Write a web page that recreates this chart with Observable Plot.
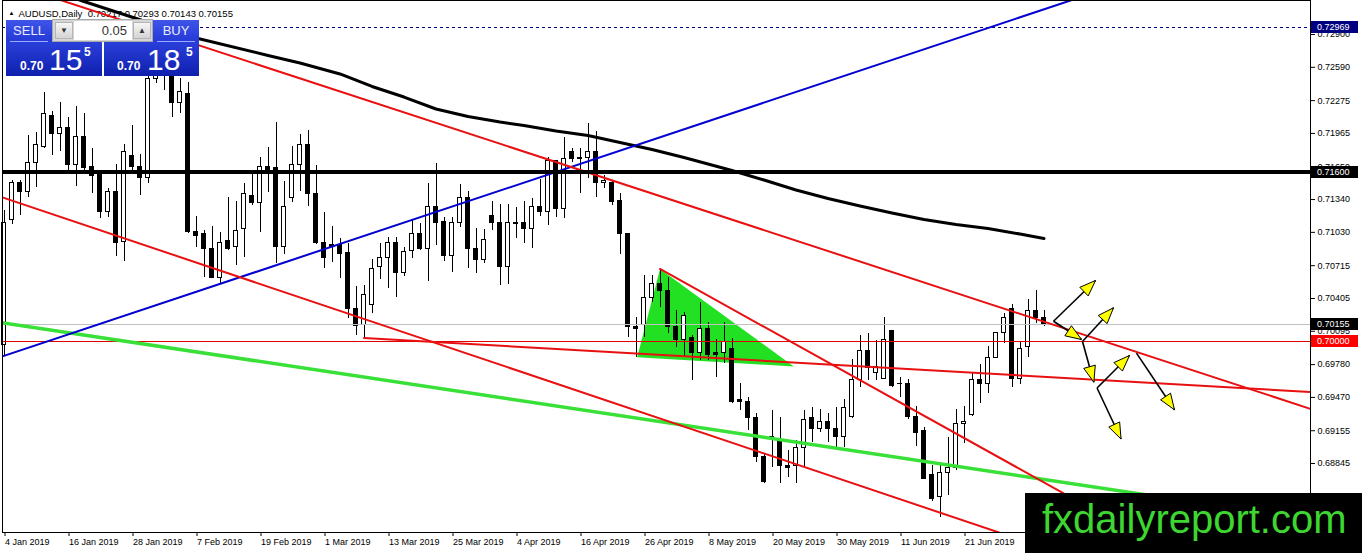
<!DOCTYPE html>
<html>
<head>
<meta charset="utf-8">
<script src="https://cdn.jsdelivr.net/npm/d3@7"></script>
<script src="https://cdn.jsdelivr.net/npm/@observablehq/plot@0.6"></script>
<style>
  html, body { margin: 0; padding: 0; background: #fff; }
  #wrap { position: relative; width: 1362px; height: 553px; overflow: hidden; background: #fff; }
  #chart svg { display: block; }
  .p { position: absolute; box-sizing: border-box; font-family: 'Liberation Sans', Arial, sans-serif; color: #fff; }
  .hdr { background: linear-gradient(#3f54e8, #2439d6); font-size: 13px; text-align: center; line-height: 21px; color: #e8ecff; }
  .sep { position: absolute; left: 4px; right: 4px; top: 21px; height: 1px; background: #9aa8ff; }
  .big { background: linear-gradient(#2a3fda, #0f20ae); }
  .big span { position: absolute; line-height: 1; white-space: nowrap; }
  .sm { font-size: 12px; font-weight: bold; }
  .lg { font-size: 30px; }
  .sup { font-size: 12px; font-weight: bold; }
  #lot { left: 52px; top: 19px; width: 101px; height: 23px; background: #d6d6d6; border: 1px solid #a8a8a8; }
  .btn { position: absolute; top: 2px; width: 18px; height: 17px; box-sizing: border-box; background: linear-gradient(#f6f6f6, #d4d4d4); border: 1px solid #b4b4b4; color: #333; font-size: 8px; text-align: center; line-height: 15px; }
  .fld { position: absolute; left: 21px; top: 1px; width: 58px; height: 19px; box-sizing: border-box; background: #fff; color: #333; font-size: 13px; text-align: right; padding-right: 5px; line-height: 19px; }
  #wm { position: absolute; left: 1025px; top: 493px; width: 337px; height: 60px; background: #000; }
  #wm span { position: absolute; left: 17px; top: 6px; font-family: 'Liberation Sans', Arial, sans-serif; font-size: 40px; line-height: 1; color: #3ed630; white-space: nowrap; }
</style>
</head>
<body>
<div id="wrap">
  <div id="chart"></div>
  <div class="p hdr" style="left:6px;top:20px;width:46px;height:22px;">SELL<div class="sep"></div></div>
  <div class="p" id="lot">
    <div class="btn" style="left:2px;">&#9660;</div>
    <div class="fld">0.05</div>
    <div class="btn" style="left:80px;">&#9650;</div>
  </div>
  <div class="p hdr" style="left:153px;top:20px;width:46px;height:22px;">BUY<div class="sep"></div></div>
  <div class="p big" style="left:6px;top:42px;width:96px;height:34px;">
    <span class="sm" style="left:14px;top:18px;">0.70</span>
    <span class="lg" style="left:43px;top:3px;">15</span>
    <span class="sup" style="left:78px;top:4px;">5</span>
  </div>
  <div class="p big" style="left:104px;top:42px;width:95px;height:34px;">
    <span class="sm" style="left:13px;top:18px;">0.70</span>
    <span class="lg" style="left:43px;top:3px;">18</span>
    <span class="sup" style="left:82px;top:4px;">5</span>
  </div>
  <div id="wm"><span>fxdailyreport.com</span></div>
</div>
<script>
// ---------- data (daily AUDUSD bars, index 0 = 4 Jan 2019) ----------
const open = [
0.69961,0.71151,0.71492,0.71407,0.71690,0.71841,0.72134,0.71964,0.72012,0.71662,
0.71927,0.71652,0.71586,0.71218,0.71416,0.70943,0.71756,0.71652,0.71548,0.72484,
0.72673,0.72579,0.72248,0.72342,0.71038,0.71010,0.70868,0.70603,0.70944,0.70887,
0.71057,0.71378,0.71303,0.71643,0.71634,0.70887,0.71359,0.71671,0.71860,0.71388,
0.70925,0.70915,0.70915,0.70839,0.70310,0.70150,0.70348,0.70698,0.70792,0.70934,
0.70650,0.70849,0.71010,0.70877,0.71274,0.71132,0.70802,0.71114,0.71350,0.70877,
0.70773,0.71189,0.71114,0.70698,0.71114,0.71114,0.71057,0.71265,0.71218,0.71700,
0.71246,0.71785,0.71737,0.71737,0.71785,0.71492,0.71492,0.71331,0.71010,0.70140,
0.70150,0.70405,0.70546,0.70480,0.70140,0.70008,0.70036,0.69885,0.70112,0.69885,
0.69885,0.69932,0.69441,0.69431,0.69271,0.68902,0.69091,0.69044,0.68826,0.68817,
0.68996,0.69271,0.69167,0.69233,0.69167,0.69100,0.69280,0.69639,0.69904,0.69696,
0.69648,0.70093,0.69601,0.69601,0.69280,0.69148,0.68741,0.68524,0.68751,0.68798,
0.69223,0.69299,0.69630,0.69592,0.69847,0.70083,0.70310,0.69648,0.69942,0.70282,
0.70217];
const high = [
0.71237,0.71520,0.71520,0.71945,0.71974,0.72352,0.72172,0.72257,0.72116,0.72220,
0.72153,0.71823,0.71615,0.71444,0.71671,0.71860,0.72040,0.71766,0.72513,0.72969,
0.72796,0.72654,0.72484,0.72446,0.71180,0.71047,0.71085,0.71029,0.71359,0.71321,
0.71492,0.71586,0.71737,0.71832,0.72068,0.71511,0.71841,0.71955,0.71993,0.71662,
0.71218,0.71085,0.70972,0.70925,0.70518,0.70528,0.70773,0.70925,0.70981,0.70981,
0.70887,0.71151,0.71114,0.71492,0.71681,0.71170,0.71170,0.71482,0.71416,0.71066,
0.71057,0.71321,0.71293,0.71293,0.71265,0.71321,0.71350,0.71529,0.71737,0.71709,
0.71927,0.71823,0.71823,0.72059,0.71983,0.71567,0.71520,0.71397,0.71019,0.70225,
0.70622,0.70622,0.70679,0.70603,0.70291,0.70272,0.70055,0.70367,0.70178,0.70017,
0.70178,0.70027,0.69601,0.69469,0.69318,0.68930,0.69346,0.69280,0.68968,0.69063,
0.69346,0.69374,0.69356,0.69318,0.69374,0.69450,0.69828,0.70055,0.70074,0.70008,
0.70225,0.70093,0.69658,0.69639,0.69384,0.69185,0.68826,0.68826,0.69091,0.69356,
0.69384,0.69696,0.69781,0.69951,0.70083,0.70263,0.70348,0.69998,0.70395,0.70480,
0.70293];
const low = [
0.69866,0.71104,0.71189,0.71359,0.71454,0.71822,0.71756,0.71794,0.71615,0.71463,
0.71615,0.71397,0.71161,0.71170,0.70802,0.70754,0.71615,0.71378,0.71492,0.72437,
0.72371,0.72116,0.72153,0.71019,0.70887,0.70603,0.70594,0.70546,0.70858,0.70717,
0.70792,0.71284,0.71029,0.71407,0.70735,0.70821,0.71312,0.71416,0.71274,0.70915,
0.70688,0.70745,0.70594,0.70216,0.70055,0.70036,0.70263,0.70584,0.70499,0.70414,
0.70613,0.70783,0.70858,0.70565,0.70906,0.70754,0.70650,0.71076,0.70688,0.70641,
0.70735,0.71047,0.70528,0.70537,0.70972,0.70925,0.70877,0.71180,0.71095,0.71170,
0.71161,0.71690,0.71397,0.71539,0.71359,0.71444,0.71284,0.70821,0.70036,0.69847,
0.70036,0.70367,0.70320,0.70074,0.69942,0.69847,0.69630,0.69819,0.69819,0.69658,
0.69790,0.69412,0.69346,0.69157,0.68855,0.68656,0.68807,0.68656,0.68713,0.68656,
0.68807,0.69044,0.69138,0.69044,0.68996,0.68996,0.69271,0.69563,0.69630,0.69630,
0.69639,0.69563,0.69469,0.69261,0.69006,0.68694,0.68486,0.68335,0.68543,0.68779,
0.69034,0.69289,0.69412,0.69507,0.69838,0.69979,0.69563,0.69592,0.69847,0.70168,
0.70143];
const close = [
0.71123,0.71492,0.71407,0.71690,0.71851,0.72144,0.71955,0.72012,0.71662,0.71927,
0.71634,0.71567,0.71218,0.71407,0.70934,0.71785,0.71643,0.71548,0.72475,0.72702,
0.72560,0.72248,0.72361,0.71029,0.71000,0.70868,0.70603,0.70934,0.70877,0.71047,
0.71397,0.71303,0.71643,0.71624,0.70887,0.71265,0.71671,0.71860,0.71388,0.70925,
0.70792,0.70896,0.70830,0.70301,0.70149,0.70442,0.70688,0.70792,0.70934,0.70650,
0.70840,0.71010,0.70868,0.71265,0.71123,0.70811,0.71114,0.71359,0.70868,0.70764,
0.70962,0.71114,0.70698,0.71114,0.71110,0.71057,0.71265,0.71218,0.71700,0.71246,
0.71728,0.71728,0.71728,0.71785,0.71501,0.71511,0.71321,0.71019,0.70131,0.70121,
0.70405,0.70546,0.70480,0.70140,0.70008,0.70235,0.69885,0.70112,0.69875,0.69875,
0.69998,0.69431,0.69431,0.69271,0.68902,0.68666,0.69100,0.68826,0.68807,0.68987,
0.69261,0.69167,0.69233,0.69167,0.69100,0.69374,0.69639,0.69904,0.69752,0.69762,
0.70008,0.69573,0.69592,0.69280,0.69138,0.68703,0.68514,0.68751,0.68807,0.69223,
0.69242,0.69639,0.69601,0.69847,0.70074,0.70216,0.69648,0.69932,0.70282,0.70225,
0.70155];

// moving average (black curve), read at selected bars
const maIndex = [0,10,15,24,33,37,42,46,50,54,58,62,65,69,73,77,81,85,88,91,95,99,103,107,111,115,119,123,127,130];
const maValue = [0.73477,0.73212,0.73089,0.72867,0.72702,0.72631,0.72527,0.72409,0.72309,0.72196,0.72125,0.72073,0.72040,0.71988,0.71945,0.71879,0.71813,0.71737,0.71676,0.71615,0.71525,0.71430,0.71350,0.71279,0.71213,0.71152,0.71104,0.71066,0.71014,0.70972];

// date axis
const xTickIndex = [0,8,16,24,32,40,48,56,64,72,80,88,96,104,112,120];
const xTickLabels = ["4 Jan 2019","16 Jan 2019","28 Jan 2019","7 Feb 2019","19 Feb 2019","1 Mar 2019","13 Mar 2019","25 Mar 2019","4 Apr 2019","16 Apr 2019","26 Apr 2019","8 May 2019","20 May 2019","30 May 2019","11 Jun 2019","21 Jun 2019"];
// price axis
const yTicks = [0.72900,0.72590,0.72275,0.71965,0.71650,0.71340,0.71030,0.70715,0.70405,0.70095,0.69780,0.69470,0.69155,0.68845,0.68535];

// drawn objects: [barIndex, price]
const blueLine = [[-1, 0.69837], [135, 0.73264]];
const greenLine = [[-1, 0.70185], [165, 0.68296]];
const redUpper = [[-1, 0.73425], [165, 0.69320]];
const redLower = [[-1, 0.71381], [135, 0.67923]];
const redFlat = [[45, 0.70031], [165, 0.69514]];
const redWedge = [[82, 0.70684], [150, 0.67825]];
const triangle = [[82, 0.70684], [79.15, 0.69850], [98.73, 0.69762], [82, 0.70684]];

// levels
const levelDashed = 0.72969;
const levelBlack = 0.71600;
const levelBid = 0.70155;
const levelRed = 0.70000;

// arrows: start index, start price, end index, end price
const arrowX1 = [131.19, 131.19, 134.81, 134.81, 136.63, 136.63, 141.56];
const arrowY1 = [0.70190, 0.70190, 0.69998, 0.69998, 0.69559, 0.69559, 0.69888];
const arrowX2 = [136.44, 134.69, 138.69, 136.23, 140.69, 139.63, 146.31];
const arrowY2 = [0.70575, 0.70017, 0.70317, 0.69614, 0.69866, 0.69077, 0.69353];

const symbol = "AUDUSD,Daily";

// ---------- build ----------
const bars = open.map((o, i) => ({i, o, h: high[i], l: low[i], c: close[i]}));
const ma = maIndex.map((x, k) => ({x, y: maValue[k]}));
const arrows = arrowX1.map((x1, k) => ({x1, y1: arrowY1[k], x2: arrowX2[k], y2: arrowY2[k]}));
const last = bars[bars.length - 1];
const fmt = v => v.toFixed(5);
const titleText = `${symbol}\u00a0\u00a0${fmt(last.o)} ${fmt(last.h)} ${fmt(last.l)} ${fmt(last.c)}`;
const labelMap = new Map(xTickIndex.map((d, k) => [d, xTickLabels[k]]));
const tags = [
  {v: levelDashed, bg: "#000080"},
  {v: levelBlack, bg: "#000000"},
  {v: levelBid, bg: "#000000"},
  {v: levelRed, bg: "#ff0000"}
];
const P = d => d[0], V = d => d[1];
const NS = "http://www.w3.org/2000/svg";

const chart = Plot.plot({
  width: 1362, height: 553,
  marginLeft: 2, marginRight: 52, marginTop: 0, marginBottom: 21,
  x: {domain: [-0.1875, 163.3125], label: null},
  y: {domain: [0.681930, 0.732214], label: null},
  color: {type: "identity"},
  style: {background: "#fff", fontFamily: "'Liberation Sans', Arial, sans-serif", fontSize: "9px", color: "#000", overflow: "visible"},
  marks: [
    Plot.text(["\u25B2"], {frameAnchor: "top-left", dx: 6, dy: 10, text: d => d, fontSize: 6, fill: "#000"}),
    Plot.text([titleText], {frameAnchor: "top-left", dx: 16, dy: 10, text: d => d, textAnchor: "start", fontSize: 9.5, fill: "#000"}),
    Plot.line(triangle, {x: P, y: V, fill: "#22e022", stroke: "none"}),
    Plot.ruleX(bars, {x: "i", y1: "l", y2: "h", stroke: "#000", strokeWidth: 1, shapeRendering: "crispEdges"}),
    Plot.rect(bars, {
      x1: d => d.i - 0.25, x2: d => d.i + 0.25,
      y1: "o", y2: d => (d.c === d.o ? d.o - 0.00001 : d.c),
      fill: d => (d.c >= d.o ? "#ffffff" : "#000000"),
      stroke: "#000", strokeWidth: 1, shapeRendering: "crispEdges"
    }),
    Plot.line(ma, {x: "x", y: "y", stroke: "#000", strokeWidth: 3, clip: true}),
    Plot.ruleY([levelDashed], {stroke: "#000080", strokeWidth: 1, strokeDasharray: "3,3", shapeRendering: "crispEdges"}),
    Plot.ruleY([levelBid], {stroke: "#c0c0c0", strokeWidth: 1, shapeRendering: "crispEdges"}),
    Plot.ruleY([levelRed], {stroke: "#e00000", strokeWidth: 1, shapeRendering: "crispEdges"}),
    Plot.line(greenLine, {x: P, y: V, stroke: "#38e038", strokeWidth: 3.5, clip: true}),
    Plot.line(blueLine, {x: P, y: V, stroke: "#0000d0", strokeWidth: 2, clip: true}),
    Plot.line(redUpper, {x: P, y: V, stroke: "#e81010", strokeWidth: 2, clip: true}),
    Plot.line(redLower, {x: P, y: V, stroke: "#e81010", strokeWidth: 2, clip: true}),
    Plot.line(redFlat, {x: P, y: V, stroke: "#e81010", strokeWidth: 2, clip: true}),
    Plot.line(redWedge, {x: P, y: V, stroke: "#e81010", strokeWidth: 2, clip: true}),
    Plot.ruleY([levelBlack], {stroke: "#000", strokeWidth: 4}),
    Plot.link(arrows, {
      x1: "x1", y1: "y1", x2: "x2", y2: "y2", stroke: "#000", strokeWidth: 1.6,
      render(index, scales, values, dimensions, context, next) {
        const g = next(index, scales, values, dimensions, context);
        for (const i of index) {
          const X1 = values.x1[i], Y1 = values.y1[i], X2 = values.x2[i], Y2 = values.y2[i];
          const dx = X2 - X1, dy = Y2 - Y1, L = Math.hypot(dx, dy);
          const ux = dx / L, uy = dy / L, len = 16, w = 6;
          const bx = X2 - ux * len, by = Y2 - uy * len;
          const pts = [[X2, Y2], [bx - uy * w, by + ux * w], [bx + uy * w, by - ux * w]];
          const poly = document.createElementNS(NS, "polygon");
          poly.setAttribute("points", pts.map(p => p.join(",")).join(" "));
          poly.setAttribute("fill", "#ffff00");
          poly.setAttribute("stroke", "#000");
          poly.setAttribute("stroke-width", "1");
          g.appendChild(poly);
        }
        return g;
      }
    }),
    Plot.frame({stroke: "#000", shapeRendering: "crispEdges"}),
    Plot.axisX(xTickIndex, {anchor: "bottom", tickFormat: d => labelMap.get(d), tickSize: 4, tickPadding: 2, textAnchor: "start", dx: 1, fontSize: 9, label: null}),
    Plot.axisY(yTicks, {anchor: "right", tickFormat: d => d.toFixed(5), tickSize: 4, tickPadding: 3, fontSize: 9, label: null}),
    Plot.text(tags, {
      y: "v", frameAnchor: "right", text: d => fmt(d.v),
      render(index, scales, values, dimensions) {
        const g = document.createElementNS(NS, "g");
        const x0 = dimensions.width - dimensions.marginRight + 1;
        for (const i of index) {
          const y = Math.round(values.y[i]);
          const r = document.createElementNS(NS, "rect");
          r.setAttribute("x", x0); r.setAttribute("y", y - 6);
          r.setAttribute("width", 47); r.setAttribute("height", 12);
          r.setAttribute("fill", tags[i].bg);
          g.appendChild(r);
          const t = document.createElementNS(NS, "text");
          t.setAttribute("x", x0 + 6); t.setAttribute("y", y);
          t.setAttribute("dy", "0.35em");
          t.setAttribute("text-anchor", "start");
          t.setAttribute("fill", "#fff");
          t.setAttribute("font-size", "9");
          t.textContent = fmt(tags[i].v);
          g.appendChild(t);
        }
        return g;
      }
    })
  ]
});
document.getElementById("chart").appendChild(chart);
</script>
</body>
</html>
